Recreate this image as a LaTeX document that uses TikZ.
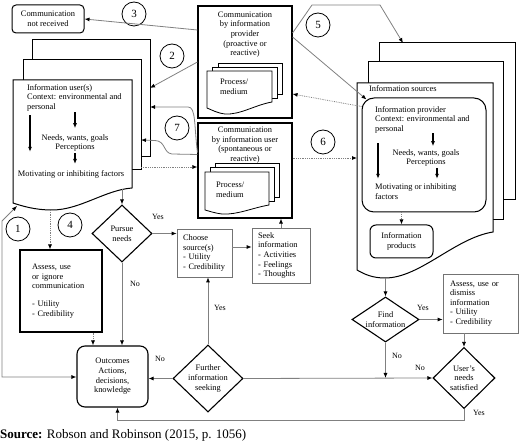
\documentclass[tikz,border=0pt]{standalone}
\usepackage{fontspec}
\setmainfont{Liberation Serif}
\usetikzlibrary{arrows.meta,shapes.geometric,calc}

\begin{document}
\begin{tikzpicture}[x=1pt,y=-1pt,
  every node/.style={font=\fontsize{8.4}{9.6}\selectfont},
  >={Latex[length=5pt,width=4pt,color=black]},
  page/.style={draw,fill=white,line width=1pt},
  bbox/.style={draw,line width=1.1pt,inner sep=0},
  tbox/.style={draw=black!55,line width=0.7pt,inner ysep=0},
  rbox/.style={draw,line width=1pt,rounded corners=6pt,inner sep=0,align=center},
  dec/.style={diamond,draw,line width=1.1pt,inner sep=0},
  num/.style={circle,draw,line width=0.8pt,minimum size=24pt,inner sep=0,font=\fontsize{11}{12}\selectfont},
  txt/.style={inner sep=0,align=left},
  link/.style={draw=black!50,line width=0.8pt,->},
  dots/.style={link,densely dotted},
  flow/.style={->,line width=1.3pt},
  lbl/.style={inner sep=0,font=\fontsize{8}{9}\selectfont}]
\useasboundingbox (0,0) rectangle (520,443);

% information user(s)
\draw[page] (32,40) rectangle (150,157);
\draw[page] (23,60) rectangle (141,170);
\draw[page] (13,80) -- (132,80) -- (132,188) .. controls (105,190) and (80,210) .. (52,210)
  .. controls (35,210) and (22,206) .. (13,203) -- cycle;
\coordinate (ufoot) at (17,206);
\coordinate (uback2) at (150,88);
\coordinate (ub7) at (150,107);
\coordinate (um7) at (141,140);
\coordinate (um8) at (141,167);
\coordinate (ubot) at (122,189);
\coordinate (ubot2) at (50,210);
\node[txt,anchor=north west] (usrtxt) at (27,84) {Information user(s)\\Context: environmental and\\personal};
\node[inner sep=0,align=center] (usrneed) at (75,143) {Needs, wants, goals\\Perceptions};
\node[inner sep=0] (usrmot) at (71,174) {Motivating or inhibiting factors};
\draw[flow,shorten <=4pt] (30,0 |- usrtxt.south) -- (30,0 |- usrneed.south);
\draw[flow,shorten <=1pt,shorten >=6pt] (usrneed.north |- usrtxt.south) -- (usrneed.north);
\draw[flow,shorten <=1.5pt,shorten >=6pt] (usrneed.south) -- (usrneed.south |- usrmot.north);

% information sources
\draw[page] (379,43) rectangle (515,200);
\draw[page] (368,62) rectangle (503,220);
\draw[page] (357,83) -- (493,83) -- (493,232) .. controls (455,238) and (420,278) .. (385,278)
  .. controls (372,278) and (364,274) .. (357,270) -- cycle;
\coordinate (sback) at (403,43);
\coordinate (sfront6) at (357,158);
\coordinate (sbot) at (385.5,278);
\node[anchor=base west,inner sep=0] (srctxt) at (369,91.5) {Information sources};
\node[rbox,rounded corners=12pt,minimum width=124pt,minimum height=114pt] (prvd) at (424,155) {};
\node[txt,anchor=north west] (prvtxt) at (375,106) {Information provider\\Context: environmental and\\personal};
\node[inner sep=0,align=center] (prvneed) at (426,158) {Needs, wants, goals\\Perceptions};
\node[txt,anchor=north west] (prvmot) at (375,183.8) {Motivating or inhibiting\\factors};
\draw[flow,shorten <=10pt,shorten >=5pt] (378,0 |- prvtxt.south) -- (378,0 |- prvmot.north);
\draw[flow,shorten >=3pt] (433,0 |- prvtxt.south) -- (433,0 |- prvneed.north);
\draw[flow,shorten <=1pt,shorten >=5pt] (437,0 |- prvneed.south) -- (437,0 |- prvmot.north);
\node[rbox,minimum width=63pt,minimum height=33pt] (prod) at (401.5,241.5) {Information\\products};
\draw[dots] (prod.north |- prvd.south) -- (prod.north);

% communication boxes
\node[bbox,minimum width=94pt,minimum height=112pt] (prov) at (245,62) {};
\node[inner sep=0,align=center,anchor=north] (provtxt) at (245,11.5) {Communication\\by information\\provider\\(proactive or\\reactive)};
\draw[page,line width=0.8pt] (218,63) rectangle (282,94);
\draw[page,line width=0.8pt] (212,67) rectangle (277,98);
\draw[page,line width=0.8pt] (207,71) -- (272,71) -- (272,102) .. controls (255,105) and (240,115) .. (225,114)
  .. controls (217,113) and (212,110) .. (207,108) -- cycle;
\node[txt,anchor=north west] (provproc) at (220,78.8) {Process/\\medium};

\node[bbox,minimum width=94pt,minimum height=95pt] (cusr) at (245,170.5) {};
\node[inner sep=0,align=center,anchor=north] (cusrtxt) at (245,126.8) {Communication\\by information user\\(spontaneous or\\reactive)};
\draw[page,line width=0.8pt] (215,163) rectangle (279,197);
\draw[page,line width=0.8pt] (210,167) rectangle (274,201);
\draw[page,line width=0.8pt] (205,172) -- (269,172) -- (269,205) .. controls (252,208) and (237,215) .. (222,214)
  .. controls (214,213) and (209,211) .. (205,210) -- cycle;
\node[txt,anchor=north west] (cusrproc) at (216,181.8) {Process/\\medium};

\node[rbox,rounded corners=4pt,minimum width=72pt,minimum height=28pt] (notr) at (48,19) {Communication\\not received};

% decisions and boxes
\node[dec,minimum width=60pt,minimum height=57pt,label={[align=center]center:Pursue\\needs}] (pursue) at (122,233.5) {};
\node[dec,minimum width=70pt,minimum height=67pt,label={[align=center]center:Further\\information\\seeking}] (furt) at (208,378.5) {};
\node[dec,minimum width=67pt,minimum height=45pt,label={[align=center]center:Find\\information}] (find) at (385.5,319.5) {};
\node[dec,minimum width=62pt,minimum height=61pt,label={[align=center]center:User's\\needs\\satisfied}] (sat) at (464,378) {};

\node[bbox,minimum width=82pt,minimum height=82pt,text width=58pt,inner xsep=12pt,align=left] (asse) at (61,291)
  {Assess, use\\or ignore\\communication\\[8pt]- Utility\\- Credibility};
\node[tbox,minimum width=55pt,minimum height=48pt,text width=43pt,inner xsep=6pt,align=left] (choo) at (204.5,253)
  {Choose\\source(s)\\- Utility\\- Credibility};
\node[tbox,minimum width=58pt,minimum height=55pt,text width=46pt,inner xsep=6pt,align=left] (seek) at (281,255.5)
  {Seek\\information\\- Activities\\- Feelings\\- Thoughts};
\node[tbox,minimum width=75pt,minimum height=59pt,text width=61pt,inner xsep=7pt,align=left] (dism) at (480.5,303.5)
  {Assess, use or\\dismiss\\information\\- Utility\\- Credibility};
\node[rbox,line width=1.1pt,rounded corners=8pt,minimum width=71pt,minimum height=61pt] (outc) at (112.5,376.5)
  {Outcomes\\Actions,\\decisions,\\knowledge};

% numbers
\node[num] (n1) at (18,229) {1};
\node[num] (n2) at (172,56) {2};
\node[num] (n3) at (134,14) {3};
\node[num] (n4) at (70,225) {4};
\node[num] (n5) at (318,25) {5};
\node[num] (n6) at (323,142) {6};
\node[num] (n7) at (177,128) {7};

% connectors
\draw[link,<->] (ufoot) -- (2,221) -- (2,377) -- (outc.west |- 0,377);
\draw[link] (prov.west) -- (uback2);
\draw[link] ([yshift=32pt]prov.west) -- (notr.east);
\draw[link] ([yshift=18pt]cusr.west) .. controls (194,125) and (196,107) .. (188,107) -- (ub7);
\draw[link] ([yshift=16pt]cusr.west) -- (172,154) .. controls (163,153) and (166,141) .. (155,140.5) -- (um7);
\draw[dots] (um8) -- (cusr.west |- um8);
\draw[link] ([yshift=29pt]prov.east) -- (312,5) -- (380,5) -- (sback);
\draw[link] ([yshift=25pt]prov.east) -- ([xshift=5pt,yshift=-2pt]prvd.north west);
\draw[dots] ([yshift=-9pt]prvd.north west) -- ([yshift=-32pt]prov.east);
\draw[dots] ([yshift=12.5pt]cusr.east) -- (sfront6);
\draw[link] (ubot) -- (pursue.north);
\draw[dots] (ubot2) -- (ubot2 |- asse.north);
\draw[dots] (93,0 |- asse.south) -- (93,0 |- outc.north);
\draw[link] (pursue.east) -- (pursue.east -| choo.west);
\draw[link] (pursue.south) -- (pursue.south |- outc.north);
\draw[link] ([yshift=6pt]choo.east) -- ([yshift=6pt]choo.east -| seek.west);
\draw[link] (seek.north) -- (seek.north |- cusr.south);
\draw[link] (furt.west) -- (furt.west -| outc.east);
\draw[link] (furt.north) -- (furt.north |- choo.south);
\draw[link] (furt.east) -- (sat.west);
\draw[link] (sbot) -- (find.north);
\draw[link] (find.east) -- (find.east -| dism.west);
\draw[link] (find.south) -- (find.south |- sat.west);
\draw[link] (dism.south -| sat.north) -- (sat.north);
\draw[link] (sat.south) -- ++(0,11) -| ([xshift=5pt]outc.south);

% labels
\node[lbl] (ypur) at (158,217) {Yes};
\node[lbl] (npur) at (135,284) {No};
\node[lbl] (nfur) at (160,359) {No};
\node[lbl] (yfur) at (220,308) {Yes};
\node[lbl] (yfind) at (423,308) {Yes};
\node[lbl] (nfind) at (397,356) {No};
\node[lbl] (nsat) at (420,368) {No};
\node[lbl] (ysat) at (479,413) {Yes};

\node[anchor=base west,inner sep=0,font=\fontsize{13}{15}\selectfont] (src) at (0,438.5)
  {\textbf{Source:} Robson and Robinson (2015, p. 1056)};
\end{tikzpicture}
\end{document}
